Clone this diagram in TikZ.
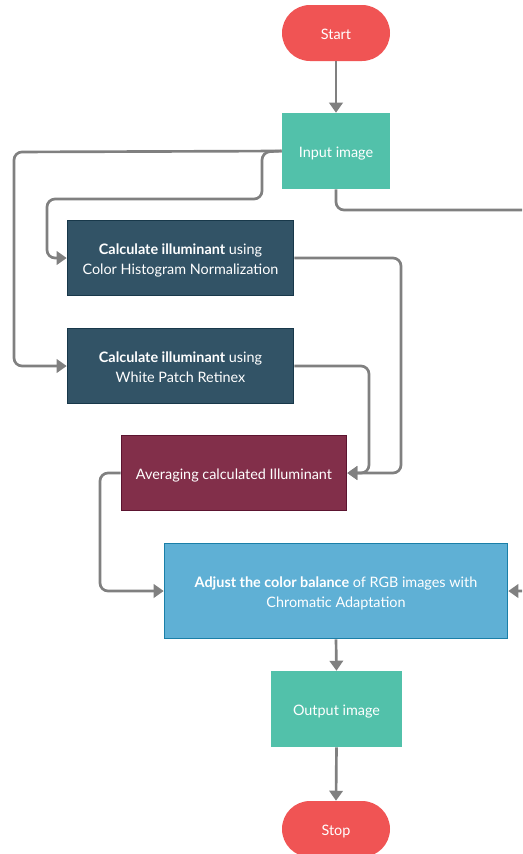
\documentclass[tikz,border=0pt]{standalone}
\usepackage{fontspec}
\setmainfont{Lato}
\usetikzlibrary{arrows.meta}
\definecolor{termred}{HTML}{F05454}
\definecolor{iogreen}{HTML}{52C1AA}
\definecolor{calcfill}{HTML}{325366}
\definecolor{calcdraw}{HTML}{18384A}
\definecolor{avgfill}{HTML}{822F4A}
\definecolor{avgdraw}{HTML}{5C1430}
\definecolor{adjfill}{HTML}{5FB0D5}
\definecolor{adjdraw}{HTML}{1A7FA8}
\definecolor{linegray}{HTML}{808080}
\newcommand{\txtdown}[1]{\raisebox{-2pt}[\height][\depth]{\begin{tabular}{@{}c@{}}#1\end{tabular}}}
\tikzset{
  base/.style={text=white, align=center, inner sep=0pt, font=\fontsize{10.8}{15}\selectfont},
  term/.style={base, fill=termred, minimum width=108*0.75pt, minimum height=56*0.75pt, rounded corners=21pt},
  io/.style={base, fill=iogreen, minimum height=76*0.75pt},
  calc/.style={base, fill=calcfill, draw=calcdraw, line width=1.2pt, minimum width=226*0.75pt, minimum height=75*0.75pt},
  avg/.style={base, fill=avgfill, draw=avgdraw, line width=1.2pt, minimum width=225*0.75pt, minimum height=75*0.75pt},
  adj/.style={base, fill=adjfill, draw=adjdraw, line width=1.2pt, minimum width=343*0.75pt, minimum height=95*0.75pt},
  conn/.style={draw=linegray, line width=2pt, rounded corners=6pt, -{Triangle[width=10pt,length=7.5pt]}},
}
\begin{document}
\begin{tikzpicture}[x=0.75pt, y=-0.75pt]
\useasboundingbox (0,0) rectangle (522,854);
\clip (0,0) rectangle (522,854);
\fill[white] (0,0) rectangle (522,854);
\node[term] (start) at (336,33) {\txtdown{Start}};
\node[io, minimum width=108*0.75pt] (input) at (336,151) {\txtdown{Input image}};
\node[calc] (chn) at (180.5,258) {\txtdown{\textbf{Calculate illuminant} using\\Color Histogram Normalization}};
\node[calc] (wpr) at (180.5,366) {\txtdown{\textbf{Calculate illuminant} using\\White Patch Retinex}};
\node[avg] (avg) at (234,473) {\txtdown{Averaging calculated Illuminant}};
\node[adj] (adj) at (336,591) {\txtdown{\textbf{Adjust the color balance} of RGB images with\\Chromatic Adaptation}};
\node[io, minimum width=131*0.75pt] (out) at (336.5,709) {\txtdown{Output image}};
\node[term] (stop) at (336,829) {\txtdown{Stop}};

\draw[conn] (start.south) -- (input.north);
\draw[conn] (input.west) -- (14,152) -- (14,366) -- (wpr.west);
\draw[conn] (input.west) -- (262,152) -- (262,199) -- (47,199) -- (47,258) -- (chn.west);
\draw[conn] (chn.east) -- (401,258) -- (401,473) -- (avg.east);
\draw[conn] (wpr.east) -- (369,366) -- (369,473) -- (avg.east);
\draw[conn] (avg.west) -- (100,473) -- (100,591) -- (adj.west);
\draw[conn] (input.south) -- (336,210) -- (540,210) -- (540,591) -- (adj.east);
\draw[conn] (adj.south) -- (out.north);
\draw[conn] (out.south) -- (stop.north);
\end{tikzpicture}
\end{document}
